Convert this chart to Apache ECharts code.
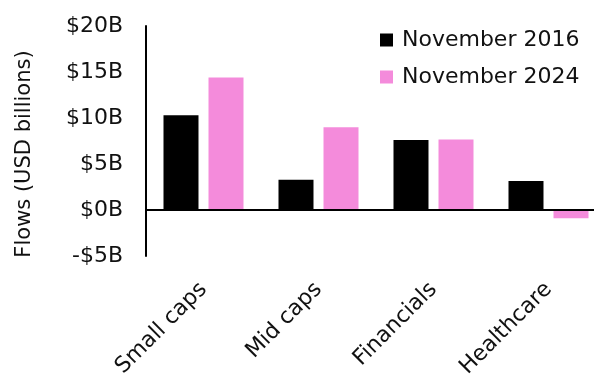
<!DOCTYPE html>
<html lang="en">
<head>
    <meta charset="UTF-8">
    <title>Flows by sector</title>
    <script src="https://cdn.jsdelivr.net/npm/echarts@6/dist/echarts.min.js"></script>
    <style>
        html, body { margin: 0; padding: 0; background: #fff; }
        #chart { width: 594px; height: 374px; }
    </style>
</head>
<body>
<div id="chart"></div>
<script type="text/javascript">
    const categories = ["Small caps", "Mid caps", "Financials", "Healthcare"];
    const nov2016 = [10.3, 3.3, 7.6, 3.15];
    const nov2024 = [14.4, 9.0, 7.65, -0.9];
    const seriesNames = ["November 2016", "November 2024"];
    const yTicks = { min: -5, max: 20, step: 5 };

    const font = "DejaVu Sans";
    const chart = echarts.init(document.getElementById("chart"));

    chart.setOption({
        animation: false,
        grid: {
            left: 146, top: 26, right: -12, bottom: 118,
            outerBoundsMode: 'none'
        },
        legend: {
            orient: 'vertical',
            left: 380, top: 29, padding: 0,
            itemWidth: 13, itemHeight: 13, itemGap: 15,
            icon: 'rect',
            textStyle: { fontFamily: font, fontSize: 22, color: '#111', padding: [0, 0, 0, 4] },
            data: seriesNames
        },
        graphic: [{
            type: 'text',
            x: 25, y: 154,
            rotation: Math.PI / 2,
            style: {
                text: 'Flows (USD billions)',
                font: '21px ' + font,
                fill: '#111',
                align: 'center',
                verticalAlign: 'middle'
            }
        }],
        xAxis: {
            type: 'category',
            data: categories,
            axisLine: { show: false, onZero: false },
            axisTick: { show: false },
            axisLabel: {
                rotate: 45, margin: 30, interval: 0,
                fontFamily: font, fontSize: 22, color: '#111'
            }
        },
        yAxis: {
            type: 'value',
            min: yTicks.min, max: yTicks.max, interval: yTicks.step,
            axisLine: { show: true, lineStyle: { color: '#000', width: 2 } },
            axisTick: { show: false },
            splitLine: { show: false },
            axisLabel: {
                margin: 23,
                fontFamily: font, fontSize: 22, color: '#111',
                formatter: (v) => (v < 0 ? '-$' + Math.abs(v) : '$' + v) + 'B'
            }
        },
        series: [{
            name: seriesNames[0],
            type: 'bar',
            data: nov2016,
            barWidth: 35,
            barGap: '28.6%',
            itemStyle: { color: '#000' },
            markLine: {
                silent: true,
                symbol: 'none',
                label: { show: false },
                lineStyle: { color: '#000', width: 2, type: 'solid' },
                data: [{ yAxis: 0 }]
            }
        }, {
            name: seriesNames[1],
            type: 'bar',
            data: nov2024,
            barWidth: 35,
            itemStyle: { color: '#f48bdb' }
        }]
    });
</script>
</body>
</html>
